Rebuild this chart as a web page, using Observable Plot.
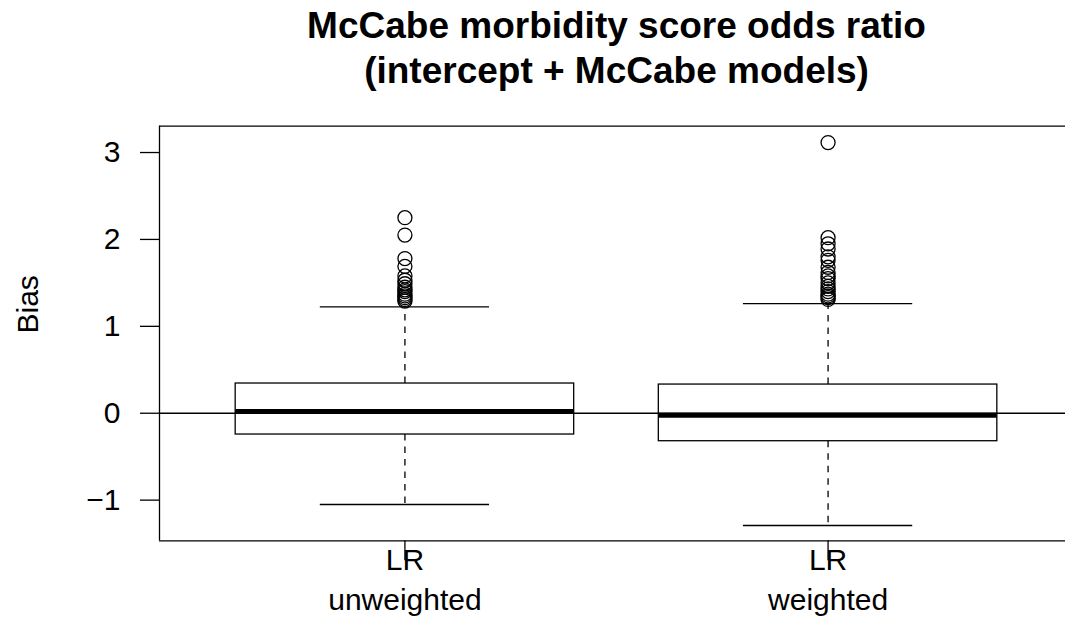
<!DOCTYPE html>
<html>
<head>
<meta charset="utf-8">
<script src="https://cdn.jsdelivr.net/npm/d3@7"></script>
<script src="https://cdn.jsdelivr.net/npm/@observablehq/plot@0.6"></script>
<style>
  html, body { margin: 0; padding: 0; background: #fff; overflow: hidden; }
</style>
</head>
<body>
<div id="chart"></div>
<script>
// Box-plot summaries of the bias in the McCabe odds ratio, one box per model
const method = "LR";
const groups = ["unweighted", "weighted"];
const lowerWhisker = [-1.05, -1.292];
const q1 = [-0.245, -0.322];
const median = [0.02, -0.023];
const q3 = [0.342, 0.330];
const upperWhisker = [1.224, 1.262];

// Points beyond the whiskers
const outliersUnweighted = [2.25, 2.05, 1.78, 1.69, 1.58, 1.53, 1.49, 1.45, 1.42, 1.40, 1.37, 1.35, 1.33, 1.31, 1.29];
const outliersWeighted = [3.115, 2.02, 1.95, 1.89, 1.80, 1.76, 1.68, 1.62, 1.58, 1.55, 1.50, 1.46, 1.43, 1.40, 1.37, 1.35, 1.33, 1.31];

const yTicks = [-1, 0, 1, 2, 3];
const yLimits = [-1.468, 3.303];
const xLimits = [0.42, 2.58];
const titleLines = ["McCabe morbidity score odds ratio", "(intercept + McCabe models)"];
const yLabel = "Bias";

const boxHalf = 0.4;
const capHalf = 0.2;
const thin = 1.3;

const stats = groups.map((g, i) => ({
  pos: i + 1,
  group: g,
  lo: lowerWhisker[i],
  q1: q1[i],
  med: median[i],
  q3: q3[i],
  hi: upperWhisker[i]
}));

const outliers = [
  ...outliersUnweighted.map(v => ({pos: 1, value: v})),
  ...outliersWeighted.map(v => ({pos: 2, value: v}))
];

// integer tick labels with a true minus sign
const intLabel = d => (d < 0 ? "\u2212" : "") + Math.abs(d);

const chart = Plot.plot({
  width: 1065,
  height: 621,
  marginLeft: 159,
  marginRight: 0,
  marginTop: 125.7,
  marginBottom: 80.7,
  style: {fontFamily: "'Liberation Sans', Arial, sans-serif", fontSize: "30px", background: "#fff", color: "#000"},
  x: {domain: xLimits, range: [159, 1073], label: null},
  y: {domain: yLimits, label: null},
  marks: [
    // plot frame (top, left, bottom)
    Plot.ruleY([yLimits[1]], {stroke: "#000", strokeWidth: thin}),
    Plot.ruleY([yLimits[0]], {stroke: "#000", strokeWidth: thin}),
    Plot.ruleX([xLimits[0]], {stroke: "#000", strokeWidth: thin}),

    // dashed whiskers and caps
    Plot.ruleX(stats, {x: "pos", y1: "q3", y2: "hi", stroke: "#000", strokeWidth: thin, strokeDasharray: "6.5,6"}),
    Plot.ruleX(stats, {x: "pos", y1: "q1", y2: "lo", stroke: "#000", strokeWidth: thin, strokeDasharray: "6.5,6"}),
    Plot.ruleY(stats, {y: "hi", x1: d => d.pos - capHalf, x2: d => d.pos + capHalf, stroke: "#000", strokeWidth: thin}),
    Plot.ruleY(stats, {y: "lo", x1: d => d.pos - capHalf, x2: d => d.pos + capHalf, stroke: "#000", strokeWidth: thin}),

    // boxes and medians
    Plot.rect(stats, {x1: d => d.pos - boxHalf, x2: d => d.pos + boxHalf, y1: "q1", y2: "q3", fill: "#fff", stroke: "#000", strokeWidth: thin}),
    Plot.ruleY(stats, {y: "med", x1: d => d.pos - boxHalf, x2: d => d.pos + boxHalf, stroke: "#000", strokeWidth: 5}),

    // reference line at zero
    Plot.ruleY([0], {stroke: "#000", strokeWidth: thin}),

    // outliers
    Plot.dot(outliers, {x: "pos", y: "value", r: 7, stroke: "#000", strokeWidth: thin, fill: "none"}),

    // axes
    Plot.axisY({ticks: yTicks, tickFormat: intLabel, tickSize: 19, tickPadding: 20, fontSize: 30, stroke: "#000", strokeWidth: thin, label: null}),
    Plot.axisX({ticks: stats.map(d => d.pos), tickSize: 20, tickFormat: () => "", stroke: "#000", strokeWidth: thin, label: null}),
    Plot.text(stats, {x: "pos", frameAnchor: "bottom", text: d => method + "\n" + d.group, lineAnchor: "top", dy: 1, lineHeight: 1.33, fontSize: 30, fill: "#000"}),

    // y label
    Plot.text([yLabel], {text: d => d, frameAnchor: "left", rotate: -90, dx: -122, lineAnchor: "bottom", fontSize: 30, fill: "#000"}),

    // title
    Plot.text([titleLines[0]], {text: d => d, frameAnchor: "top", dx: 4, dy: -88.7, lineAnchor: "bottom", fontSize: 37, fontWeight: "bold", fill: "#000"}),
    Plot.text([titleLines[1]], {text: d => d, frameAnchor: "top", dx: 4, dy: -43.7, lineAnchor: "bottom", fontSize: 37, fontWeight: "bold", fill: "#000"})
  ]
});

document.getElementById("chart").appendChild(chart);
</script>
</body>
</html>
